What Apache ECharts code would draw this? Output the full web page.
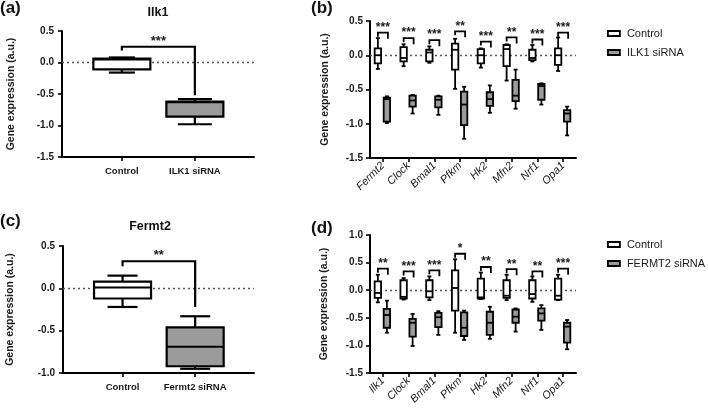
<!DOCTYPE html>
<html><head><meta charset="utf-8">
<script src="https://cdn.jsdelivr.net/npm/echarts@6/dist/echarts.min.js"></script>
<style>html,body{margin:0;padding:0;background:#fff}#c{width:708px;height:408px}</style>
</head><body><div id="c"></div>
<script>
// ---------- DATA ----------
// box values: [min, q1, median, q3, max]
const catsA = ['Control', 'ILK1 siRNA'];
const ctrlA = [-0.16, -0.11, 0.05, 0.06, 0.08];
const siA = [-0.98, -0.86, -0.63, -0.62, -0.58];
const sigA = ['***', 0.25, 0.19, -0.52]; // stars, bracket top, left leg end, right leg end

const catsC = ['Control', 'Fermt2 siRNA'];
const ctrlC = [-0.22, -0.12, 0.01, 0.08, 0.15];
const siC = [-0.95, -0.92, -0.69, -0.46, -0.33];
const sigC = ['**', 0.32, 0.26, -0.22];

const genesB = ['Fermt2', 'Clock', 'Bmal1', 'Pfkm', 'Hk2', 'Mfn2', 'Nrf1', 'Opa1'];
const ctrlB = [
  [-0.20, -0.12, 0.00, 0.10, 0.25],
  [-0.16, -0.09, -0.04, 0.12, 0.16],
  [-0.11, -0.09, 0.04, 0.08, 0.13],
  [-0.49, -0.21, 0.08, 0.17, 0.24],
  [-0.18, -0.12, 0.00, 0.09, 0.10],
  [-0.37, -0.16, 0.09, 0.15, 0.16],
  [-0.09, -0.07, -0.04, 0.08, 0.15],
  [-0.23, -0.14, 0.00, 0.10, 0.26]
];
const siB = [
  [-0.99, -0.97, -0.64, -0.62, -0.60],
  [-0.85, -0.75, -0.66, -0.59, -0.58],
  [-0.87, -0.76, -0.65, -0.60, -0.59],
  [-1.22, -1.02, -0.72, -0.53, -0.46],
  [-0.84, -0.74, -0.64, -0.54, -0.44],
  [-0.78, -0.67, -0.59, -0.36, -0.21],
  [-0.72, -0.65, -0.45, -0.42, -0.41],
  [-1.17, -0.97, -0.85, -0.80, -0.75]
];
const starsB = ['***', '***', '***', '**', '***', '**', '***', '***'];
const bracketB = [0.33, 0.25, 0.22, 0.35, 0.20, 0.26, 0.23, 0.33];

const genesD = ['Ilk1', 'Clock', 'Bmal1', 'Pfkm', 'Hk2', 'Mfn2', 'Nrf1', 'Opa1'];
const ctrlD = [
  [-0.22, -0.14, -0.05, 0.16, 0.28],
  [-0.17, -0.15, -0.12, 0.18, 0.22],
  [-0.18, -0.13, -0.02, 0.18, 0.25],
  [-0.77, -0.37, 0.04, 0.36, 0.56],
  [-0.16, -0.15, -0.13, 0.21, 0.32],
  [-0.18, -0.14, -0.10, 0.18, 0.28],
  [-0.21, -0.15, -0.07, 0.18, 0.25],
  [-0.18, -0.17, -0.10, 0.21, 0.28]
];
const siD = [
  [-0.77, -0.68, -0.45, -0.34, -0.19],
  [-1.01, -0.84, -0.59, -0.52, -0.43],
  [-0.81, -0.67, -0.49, -0.41, -0.38],
  [-0.90, -0.83, -0.68, -0.40, -0.37],
  [-0.88, -0.81, -0.59, -0.39, -0.30],
  [-0.75, -0.59, -0.48, -0.35, -0.33],
  [-0.72, -0.55, -0.42, -0.33, -0.27],
  [-1.07, -0.95, -0.66, -0.59, -0.54]
];
const starsD = ['**', '***', '***', '*', '**', '**', '**', '***'];
const bracketD = [0.39, 0.34, 0.36, 0.66, 0.42, 0.38, 0.34, 0.39];

// ---------- STYLE ----------
const FF = '"Liberation Sans", Arial, sans-serif';
const GREY = '#9b9b9b';
const INK = '#1a1a1a';

function boxRenderer(fill, hw, ch, dx, lw) {
  return function (params, api) {
    const x = api.value(0);
    const p = i => api.coord([x, api.value(i)]);
    const mn = p(1), q1 = p(2), md = p(3), q3 = p(4), mx = p(5);
    const cx = mn[0] + dx;
    const st = { stroke: '#000', lineWidth: lw };
    return {
      type: 'group', children: [
        { type: 'line', shape: { x1: cx, y1: mx[1], x2: cx, y2: q3[1] }, style: st },
        { type: 'line', shape: { x1: cx, y1: q1[1], x2: cx, y2: mn[1] }, style: st },
        { type: 'line', shape: { x1: cx - ch, y1: mx[1], x2: cx + ch, y2: mx[1] }, style: st },
        { type: 'line', shape: { x1: cx - ch, y1: mn[1], x2: cx + ch, y2: mn[1] }, style: st },
        { type: 'rect', shape: { x: cx - hw, y: q3[1], width: 2 * hw, height: q1[1] - q3[1] }, style: { fill: fill, stroke: '#000', lineWidth: lw } },
        { type: 'line', shape: { x1: cx - hw, y1: md[1], x2: cx + hw, y2: md[1] }, style: st }
      ]
    };
  };
}

function bigBracket(stars) {
  return function (params, api) {
    const pTop0 = api.coord([api.value(0), api.value(2)]);
    const pTop1 = api.coord([api.value(1), api.value(2)]);
    const pL = api.coord([api.value(0), api.value(3)]);
    const pR = api.coord([api.value(1), api.value(4)]);
    return {
      type: 'group', children: [
        { type: 'polyline', shape: { points: [[pL[0], pL[1]], [pTop0[0], pTop0[1]], [pTop1[0], pTop1[1]], [pR[0], pR[1]]] }, style: { stroke: '#000', fill: null, lineWidth: 2.2 } },
        { type: 'text', x: (pTop0[0] + pTop1[0]) / 2, y: pTop0[1] + 1, style: { text: stars, fontSize: 13, fontWeight: 'bold', fontFamily: FF, align: 'center', verticalAlign: 'bottom', fill: INK } }
      ]
    };
  };
}

function smallBracket(stars, dxL, dxR) {
  return function (params, api) {
    const p = api.coord([api.value(0), api.value(1)]);
    const xl = p[0] + dxL, xr = p[0] + dxR, y = p[1];
    return {
      type: 'group', children: [
        { type: 'polyline', shape: { points: [[xl, y + 4], [xl, y], [xr, y], [xr, y + 6]] }, style: { stroke: '#000', fill: null, lineWidth: 1.8 } },
        { type: 'text', x: (xl + xr) / 2, y: y + 1, style: { text: stars[params.dataIndex], fontSize: 12, fontWeight: 'bold', fontFamily: FF, align: 'center', verticalAlign: 'bottom', fill: INK } }
      ]
    };
  };
}

const zeroLine = {
  silent: true, symbol: 'none', z: 1, animation: false,
  label: { show: false },
  lineStyle: { type: [2, 3], color: '#555', width: 1.3 },
  data: [{ yAxis: 0 }]
};

function yAxisCfg(gridIndex, min, max, nameGap, margin) {
  return {
    gridIndex, type: 'value', min, max, interval: 0.5,
    name: 'Gene expression (a.u.)', nameLocation: 'middle', nameGap, nameRotate: 90,
    nameTextStyle: { fontSize: 10.5, fontWeight: 'bold', color: INK, fontFamily: FF },
    axisLine: { show: true, onZero: false, lineStyle: { color: '#000', width: 2 } },
    axisTick: { show: true, length: 4, lineStyle: { color: '#000', width: 1.6 } },
    axisLabel: { formatter: v => v.toFixed(1), fontSize: 10, fontWeight: 'bold', color: INK, fontFamily: FF, margin },
    splitLine: { show: false }
  };
}

function xAxisTwo(gridIndex, cats) {
  return {
    gridIndex, type: 'value', min: -0.82, max: 1.81,
    axisLine: { show: true, onZero: false, lineStyle: { color: '#000', width: 2 } },
    axisTick: { show: true, customValues: [0, 1], length: 4, lineStyle: { color: '#000', width: 1.6 } },
    axisLabel: { customValues: [0, 1], formatter: v => cats[Math.round(v)], fontSize: 9.5, fontWeight: 'bold', color: INK, fontFamily: FF, margin: 9 },
    splitLine: { show: false }
  };
}

function xAxisGenes(gridIndex, genes) {
  return {
    gridIndex, type: 'category', data: genes, boundaryGap: true,
    axisLine: { show: true, onZero: false, lineStyle: { color: '#000', width: 2 } },
    axisTick: { show: true, alignWithLabel: true, length: 4, lineStyle: { color: '#000', width: 1.6 } },
    axisLabel: { interval: 0, rotate: 45, fontStyle: 'italic', fontSize: 11, color: INK, fontFamily: FF, margin: 6 },
    splitLine: { show: false }
  };
}

const legendItem = (name, fill) => ({ name, itemStyle: { color: fill, borderColor: '#000', borderWidth: 1.8 } });
function legendCfg(top, names) {
  return {
    left: 607, top, orient: 'vertical', itemWidth: 12, itemHeight: 5, itemGap: 8, icon: 'rect',
    padding: 0, selectedMode: false,
    textStyle: { fontSize: 11, color: INK, fontFamily: FF, padding: [0, 0, 0, 2] },
    data: [legendItem(names[0], '#fff'), legendItem(names[1], GREY)]
  };
}

const titleStyle = (size) => ({ fontSize: size, fontWeight: 'bold', color: '#111', fontFamily: FF });

const option = {
  animation: false,
  backgroundColor: '#fff',
  title: [
    { text: '(a)', left: 0, top: 0, padding: 0, textStyle: titleStyle(17) },
    { text: '(b)', left: 311, top: 0, padding: 0, textStyle: titleStyle(17) },
    { text: '(c)', left: 0, top: 213, padding: 0, textStyle: titleStyle(17) },
    { text: '(d)', left: 311, top: 220, padding: 0, textStyle: titleStyle(17) },
    { text: 'Ilk1', left: 158, textAlign: 'center', top: 6, padding: 0, textStyle: titleStyle(12.5) },
    { text: 'Fermt2', left: 150, textAlign: 'center', top: 220, padding: 0, textStyle: titleStyle(12.5) }
  ],
  legend: [legendCfg(28, ['Control', 'ILK1 siRNA']), legendCfg(239, ['Control', 'FERMT2 siRNA'])],
  grid: [
    { left: 62, top: 31, width: 192, height: 126 },
    { left: 370, top: 21, width: 206, height: 137 },
    { left: 63, top: 246, width: 191, height: 127 },
    { left: 370, top: 235, width: 206, height: 138 }
  ],
  xAxis: [xAxisTwo(0, catsA), xAxisGenes(1, genesB), xAxisTwo(2, catsC), xAxisGenes(3, genesD)],
  yAxis: [yAxisCfg(0, -1.5, 0.5, 45, 8), yAxisCfg(1, -1.5, 0.5, 39, 7), yAxisCfg(2, -1.0, 0.5, 47, 8), yAxisCfg(3, -1.5, 1.0, 40, 7)],
  series: [
    // panel a
    { type: 'custom', name: 'a-control', xAxisIndex: 0, yAxisIndex: 0, z: 2, renderItem: boxRenderer('#fff', 28.5, 13, 0, 2.2), data: [[0, ...ctrlA]], encode: { x: 0, y: [1, 2, 3, 4, 5] } },
    { type: 'custom', name: 'a-siRNA', xAxisIndex: 0, yAxisIndex: 0, z: 2, renderItem: boxRenderer(GREY, 28.5, 17, 0, 2.2), data: [[1, ...siA]], encode: { x: 0, y: [1, 2, 3, 4, 5] } },
    { type: 'custom', name: 'a-sig', xAxisIndex: 0, yAxisIndex: 0, z: 3, renderItem: bigBracket(sigA[0]), data: [[0, 1, sigA[1], sigA[2], sigA[3]]], markLine: zeroLine },
    // panel b
    { type: 'custom', name: 'Control', xAxisIndex: 1, yAxisIndex: 1, z: 2, itemStyle: { color: '#fff' }, renderItem: boxRenderer('#fff', 3.2, 2, -5, 1.8), data: ctrlB.map((v, i) => [i, ...v]), encode: { x: 0, y: [1, 2, 3, 4, 5] } },
    { type: 'custom', name: 'ILK1 siRNA', xAxisIndex: 1, yAxisIndex: 1, z: 2, itemStyle: { color: GREY }, renderItem: boxRenderer(GREY, 3.2, 2, 4, 1.8), data: siB.map((v, i) => [i, ...v]), encode: { x: 0, y: [1, 2, 3, 4, 5] } },
    { type: 'custom', name: 'b-sig', xAxisIndex: 1, yAxisIndex: 1, z: 3, renderItem: smallBracket(starsB, -5, 5), data: bracketB.map((v, i) => [i, v]), markLine: zeroLine },
    // panel c
    { type: 'custom', name: 'c-control', xAxisIndex: 2, yAxisIndex: 2, z: 2, renderItem: boxRenderer('#fff', 28.5, 15, 0, 2.2), data: [[0, ...ctrlC]], encode: { x: 0, y: [1, 2, 3, 4, 5] } },
    { type: 'custom', name: 'c-siRNA', xAxisIndex: 2, yAxisIndex: 2, z: 2, renderItem: boxRenderer(GREY, 28.5, 15, 0, 2.2), data: [[1, ...siC]], encode: { x: 0, y: [1, 2, 3, 4, 5] } },
    { type: 'custom', name: 'c-sig', xAxisIndex: 2, yAxisIndex: 2, z: 3, renderItem: bigBracket(sigC[0]), data: [[0, 1, sigC[1], sigC[2], sigC[3]]], markLine: zeroLine },
    // panel d
    { type: 'custom', name: 'Control', xAxisIndex: 3, yAxisIndex: 3, z: 2, itemStyle: { color: '#fff' }, renderItem: boxRenderer('#fff', 3.2, 2, -5, 1.8), data: ctrlD.map((v, i) => [i, ...v]), encode: { x: 0, y: [1, 2, 3, 4, 5] } },
    { type: 'custom', name: 'FERMT2 siRNA', xAxisIndex: 3, yAxisIndex: 3, z: 2, itemStyle: { color: GREY }, renderItem: boxRenderer(GREY, 3.2, 2, 4, 1.8), data: siD.map((v, i) => [i, ...v]), encode: { x: 0, y: [1, 2, 3, 4, 5] } },
    { type: 'custom', name: 'd-sig', xAxisIndex: 3, yAxisIndex: 3, z: 3, renderItem: smallBracket(starsD, -5, 5), data: bracketD.map((v, i) => [i, v]), markLine: zeroLine }
  ]
};

const chart = echarts.init(document.getElementById('c'), null, { renderer: 'canvas' });
chart.setOption(option);
</script>
</body></html>
